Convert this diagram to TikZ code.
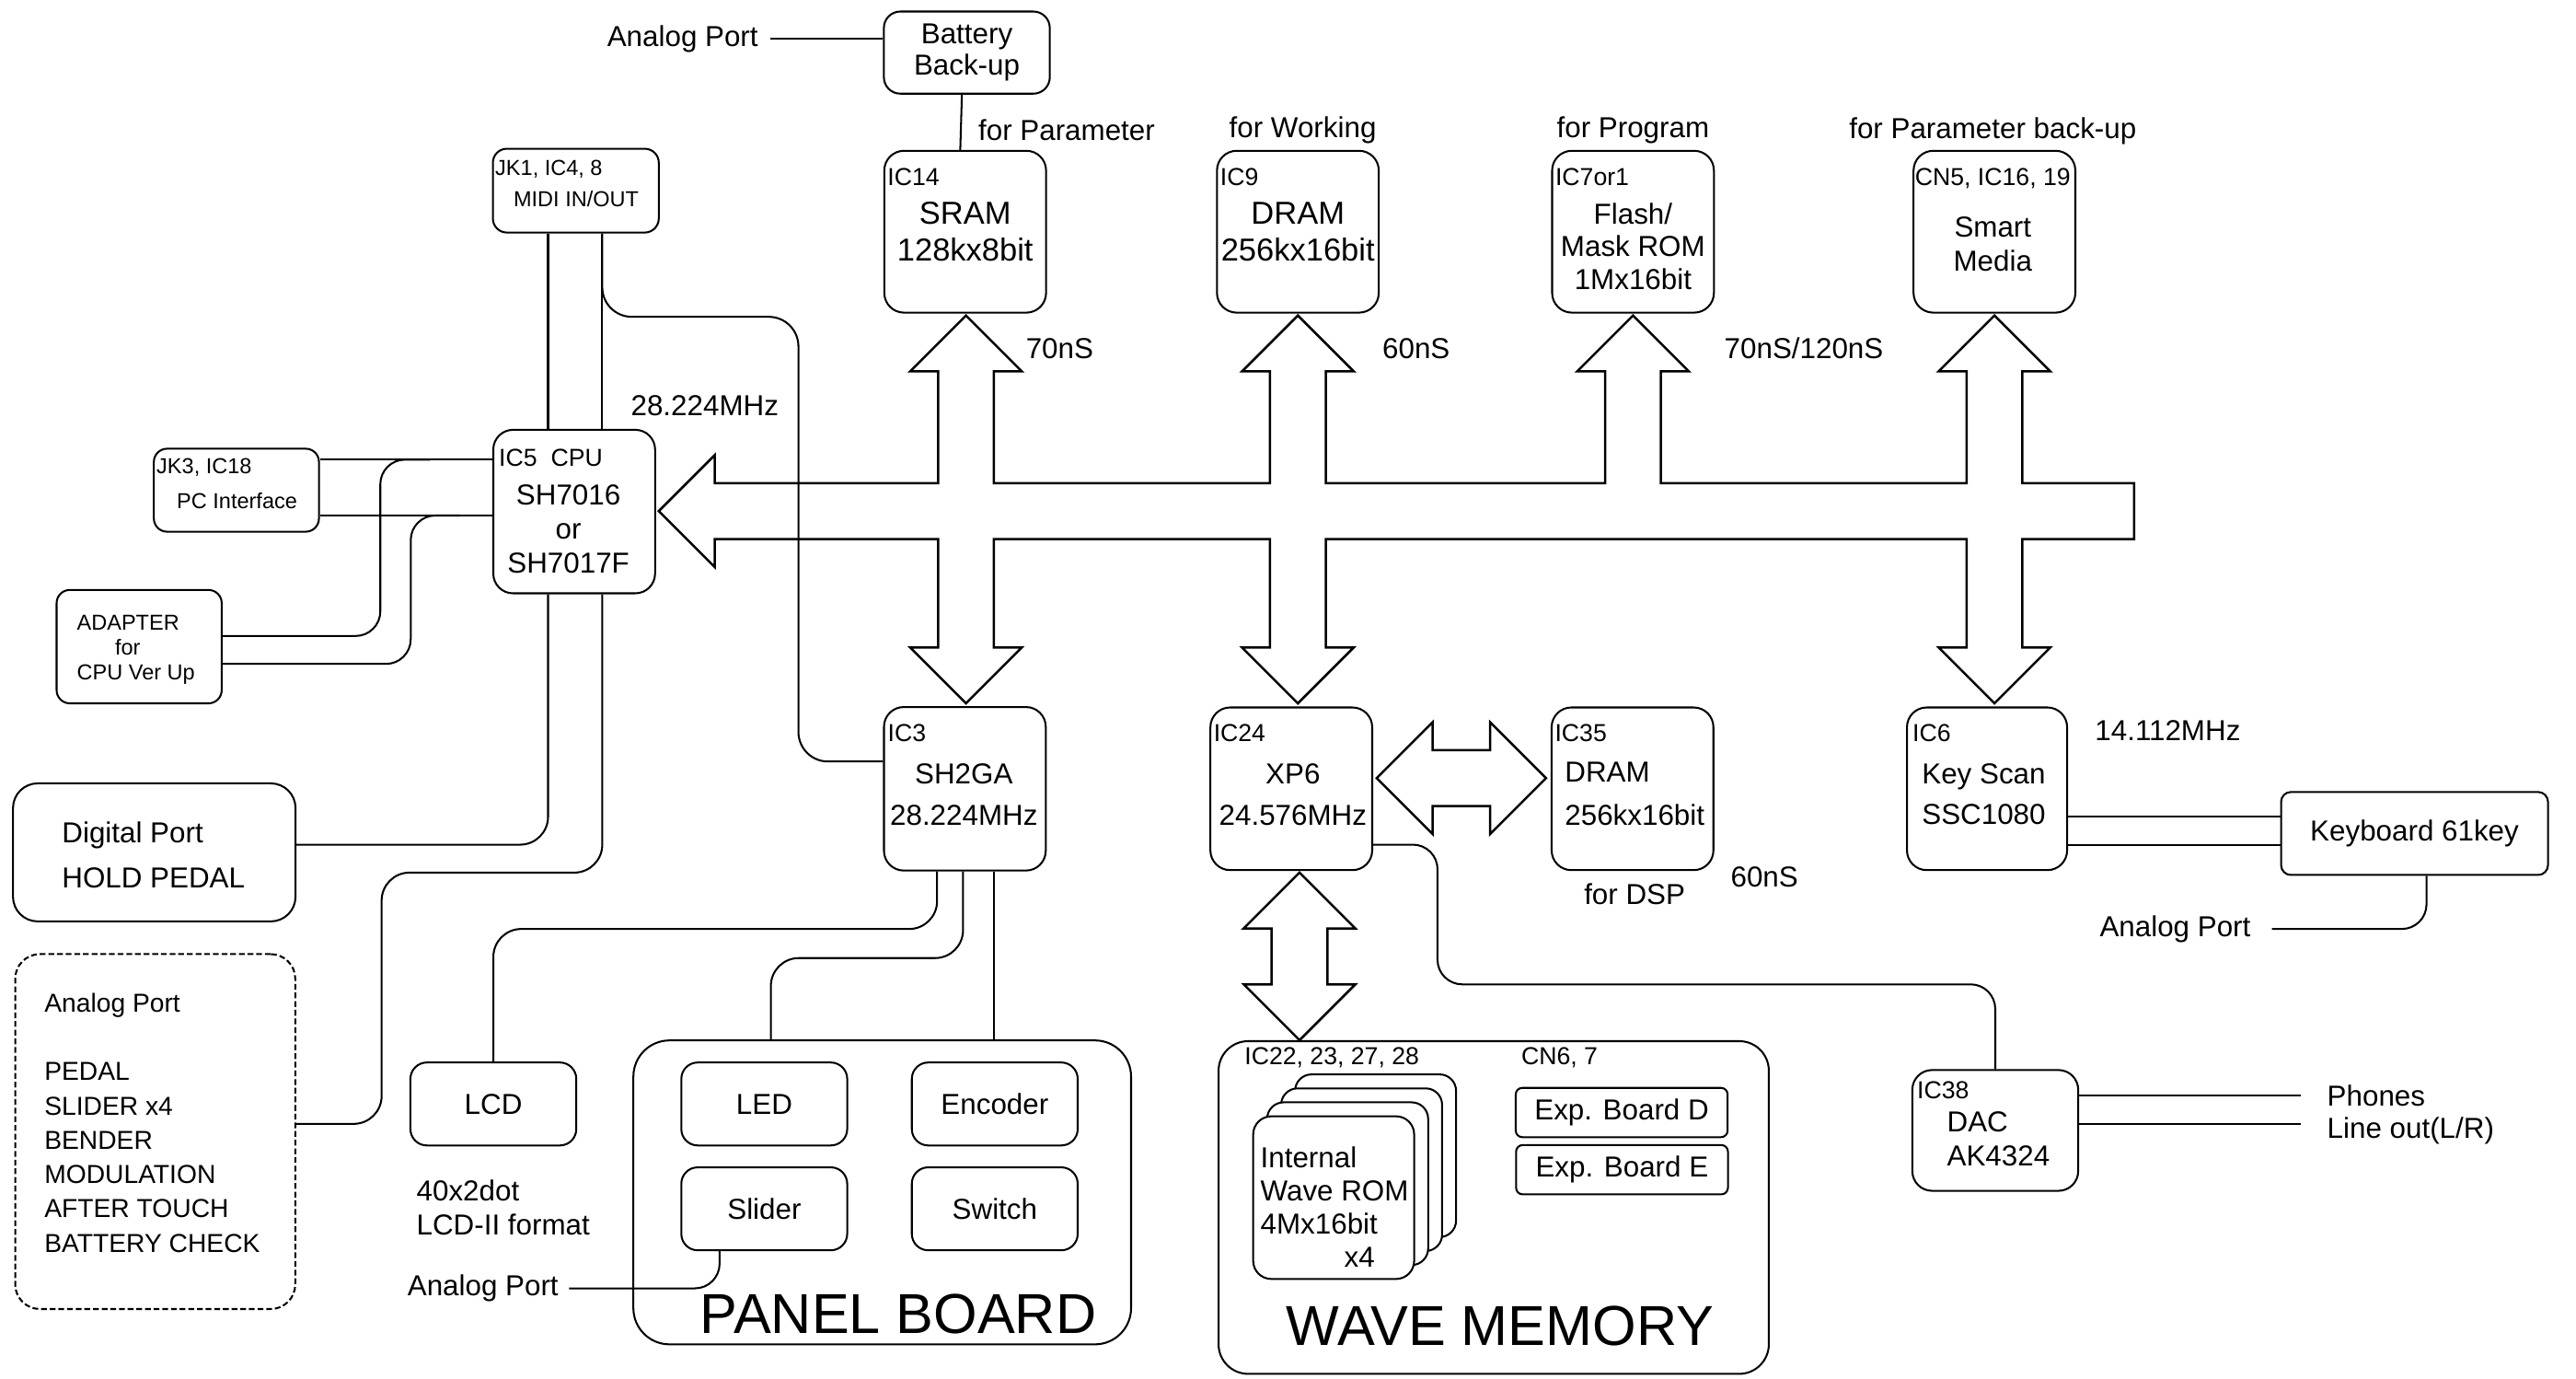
\documentclass[tikz,border=0pt]{standalone}
\usepackage{fontspec}
\setmainfont{Liberation Sans}
\usetikzlibrary{calc}

\begin{document}
\begin{tikzpicture}[
    x=0.02cm, y=-0.02cm,
    line width=0.65pt,
    chip/.style={draw, rounded corners=0.24cm, inner sep=0pt, minimum width=1.97cm, minimum height=1.97cm},
    unit/.style={draw, rounded corners=0.18cm, inner sep=0pt},
    frame/.style={draw, rounded corners=0.4cm, inner sep=0pt},
    wire/.style={draw, rounded corners=0.34cm},
    bus/.style={draw, line width=0.8pt, line join=miter},
    lbl/.style={inner sep=0pt, align=center, font=\fontsize{10}{12}\selectfont},
    big/.style={inner sep=0pt, align=center, font=\fontsize{11}{12.5}\selectfont},
    tag/.style={inner sep=0pt, anchor=west, font=\fontsize{8.5}{10}\selectfont},
    note/.style={inner sep=0pt, font=\fontsize{7.5}{9}\selectfont},
    title/.style={inner sep=0pt, font=\fontsize{19.5}{22}\selectfont}
]
\useasboundingbox (0,0) rectangle (1568,839);

% Memory chips on the bus
\node[unit, lbl, rounded corners=0.2cm, minimum width=2.02cm, minimum height=1cm, font=\fontsize{10}{10.8}\selectfont] (batt) at (588.5,32) {Battery\\Back-up};
\node[lbl, anchor=east] (ap-batt) at (462,23.5) {Analog Port};
\draw[shorten <=0.14cm] (ap-batt.east) -- (ap-batt.east -| batt.west);

\node[chip, big] (sram) at (587.5,141) {SRAM\\128kx8bit};
\node[tag] (t-sram) at ([xshift=0.04cm, yshift=-0.33cm]sram.north west) {IC14};
\node[chip, big] (dram) at (790,141) {DRAM\\256kx16bit};
\node[tag] (t-dram) at ([xshift=0.04cm, yshift=-0.33cm]dram.north west) {IC9};
\node[chip] (flash) at (994,141) {};
\node[tag] (t-flash) at ([xshift=0.04cm, yshift=-0.33cm]flash.north west) {IC7or1};
\node[lbl, font=\fontsize{10}{11.4}\selectfont] (n-flash) at (994,150) {Flash/\\Mask ROM\\1Mx16bit};
\node[chip] (smart) at (1214,141) {};
\node[tag, anchor=center] (t-smart) at (1213,108.6) {CN5, IC16, 19};
\node[lbl] (n-smart) at (1213,148.5) {Smart\\Media};

\draw ([xshift=-0.06cm]batt.south) -- ([xshift=-0.06cm]sram.north);

% Purpose and timing labels
\node[lbl, anchor=west] (u-sram) at (595,79) {for Parameter};
\node[lbl] (u-dram) at (793,79) {for Working};
\node[lbl] (u-flash) at (994,79) {for Program};
\node[lbl] (u-smart) at (1213,80) {for Parameter back-up};
\node[lbl] (s-sram) at (645,212) {70nS};
\node[lbl] (s-dram) at (862,212) {60nS};
\node[lbl] (s-flash) at (1098,212) {70nS/120nS};

% Main bus with its arrows
\draw[bus] (401,311) -- (435,277) -- (435,294)
    \foreach \c in {588,790,994,1214} { -- (\c-17,294) -- (\c-17,226) -- (\c-34,226) -- (\c,192) -- (\c+34,226) -- (\c+17,226) -- (\c+17,294) }
    -- (1299,294) -- (1299,328)
    \foreach \c in {1214,790,588} { -- (\c+17,328) -- (\c+17,394) -- (\c+34,394) -- (\c,428) -- (\c-34,394) -- (\c-17,394) -- (\c-17,328) }
    -- (435,328) -- (435,345) -- cycle;

% CPU and its ports
\node[unit, rounded corners=0.17cm, minimum width=2.02cm, minimum height=1.02cm] (midi) at (350.5,116) {};
\node[note, anchor=west] (t-midi) at ([xshift=0.03cm, yshift=-0.256cm]midi.north west) {JK1, IC4, 8};
\node[note] (n-midi) at (350.7,120.8) {MIDI IN/OUT};

\node[chip, minimum height=1.99cm] (cpu) at (349.5,311.3) {};
\node[tag] (t-cpu) at ([xshift=0.07cm, yshift=-0.35cm]cpu.north west) {IC5\ \ CPU};
\node[lbl, font=\fontsize{10}{11.8}\selectfont] (n-cpu) at (346,322) {SH7016\\or\\SH7017F};
\node[lbl] (clk-cpu) at (429,246.6) {28.224MHz};

\node[unit, rounded corners=0.16cm, minimum width=2.01cm, minimum height=1.01cm] (pc) at (143.9,298.3) {};
\node[note, anchor=west] (t-pc) at ([xshift=0.034cm, yshift=-0.234cm]pc.north west) {JK3, IC18};
\node[note] (n-pc) at (144.3,304.7) {PC Interface};

\node[unit, rounded corners=0.16cm, minimum width=2.01cm, minimum height=1.38cm] (adapter) at (84.7,393.5) {};
\node[note, anchor=west, align=left, font=\fontsize{7.5}{8.7}\selectfont] (n-adapter) at (46.3,395.5) {ADAPTER\\\hspace*{13.2pt}for\\CPU Ver Up};

\node[unit, rounded corners=0.3cm, minimum width=3.44cm, minimum height=1.68cm] (digital) at (93.9,518.7) {};
\node[lbl, anchor=west, align=left, font=\fontsize{10}{15.5}\selectfont] (n-digital) at (37.2,520.2) {Digital Port\\HOLD PEDAL};

\node[draw, dash pattern=on 2pt off 1pt, rounded corners=0.3cm, inner sep=0pt, minimum width=3.41cm, minimum height=4.32cm] (analog) at (94.5,688.6) {};
\node[lbl, anchor=west, align=left, font=\fontsize{9}{11.9}\selectfont] (n-analog) at (26.5,683.2) {Analog Port\\[11.9pt]PEDAL\\SLIDER x4\\BENDER\\MODULATION\\AFTER TOUCH\\BATTERY CHECK};

% CPU connections
\coordinate (m1) at ([xshift=-0.338cm]midi.south);
\coordinate (m2) at ([xshift=0.322cm]midi.south);
\draw (m1) -- (m1 |- cpu.north);
\draw (m2) -- (m2 |- cpu.north);

\coordinate (p1) at ([yshift=0.372cm]pc.east);
\coordinate (p2) at ([yshift=-0.308cm]pc.east);
\draw (p1) -- (p1 -| cpu.west);
\draw (p2) -- (p2 -| cpu.west);

\coordinate (a1) at ([yshift=0.13cm]adapter.east);
\coordinate (a2) at ([yshift=-0.21cm]adapter.east);
\draw[wire, rounded corners=0.3cm] (a1) -| (231.5,279.7) -- (262,279.7);
\draw[wire, rounded corners=0.3cm] (a2) -| (250,313.7) -- (280,313.7);

\coordinate (c1) at ([xshift=-0.318cm]cpu.south);
\coordinate (c2) at ([xshift=0.342cm]cpu.south);
\coordinate (d1) at ([yshift=0.094cm]digital.east);
\coordinate (d2) at ([yshift=0.094cm]analog.east);
\draw[wire] (c1) |- (d1);
\draw[wire] (c2) |- (232.3,531) |- (d2);

% Sound generator and panel
\node[chip, minimum height=1.99cm] (ic3) at (587.3,480) {};
\node[tag] (t-ic3) at ([xshift=0.046cm, yshift=-0.326cm]ic3.north west) {IC3};
\node[lbl, font=\fontsize{10}{14.5}\selectfont] (n-ic3) at (586.7,483.7) {SH2GA\\28.224MHz};

\coordinate (s1) at ([yshift=0.332cm]ic3.west);
\draw[wire, rounded corners=0.36cm] (m2) |- (486,192.8) |- (s1);

\node[unit, lbl, rounded corners=0.2cm, minimum width=2.02cm, minimum height=1.01cm] (lcd) at (300.3,671.8) {LCD};
\node[lbl, anchor=west, align=left, font=\fontsize{10}{11.7}\selectfont] (n-lcd) at (253,735) {40x2dot\\LCD-II format};

\node[frame, rounded corners=0.44cm, minimum width=6.06cm, minimum height=3.7cm] (panel) at (537,725.6) {};
\node[unit, lbl, rounded corners=0.2cm, minimum width=2.02cm, minimum height=1.01cm] (led) at (465.2,671.8) {LED};
\node[unit, lbl, rounded corners=0.2cm, minimum width=2.02cm, minimum height=1.01cm] (encoder) at (605.5,671.8) {Encoder};
\node[unit, lbl, rounded corners=0.2cm, minimum width=2.02cm, minimum height=1.01cm] (slider) at (465.2,735.6) {Slider};
\node[unit, lbl, rounded corners=0.2cm, minimum width=2.02cm, minimum height=1.01cm] (switch) at (605.5,735.6) {Switch};
\node[title] (t-panel) at (546.8,799.8) {PANEL BOARD};

\node[lbl] (ap-slider) at (294,784) {Analog Port};
\coordinate (sl) at ([xshift=-0.544cm]slider.south);
\draw[wire, rounded corners=0.3cm, shorten <=0.12cm] (ap-slider.east) -| (sl);

\coordinate (i1) at ([xshift=-0.338cm]ic3.south);
\coordinate (i2) at ([xshift=-0.022cm]ic3.south);
\coordinate (i3) at ([xshift=0.35cm]ic3.south);
\coordinate (b1) at ([xshift=-1.356cm]panel.north);
\draw[wire] (i1) -- ++(0,35) -| (lcd.north);
\draw[wire] (i2) -- ++(0,52.7) -| (b1);
\draw (i3) -- (i3 |- panel.north);

% DSP and wave memory
\node[chip, minimum height=1.98cm] (xp6) at (786,480) {};
\node[tag] (t-xp6) at ([xshift=0.04cm, yshift=-0.32cm]xp6.north west) {IC24};
\node[lbl, font=\fontsize{10}{14.5}\selectfont] (n-xp6) at (787,483.7) {XP6\\24.576MHz};

\node[chip, minimum height=1.98cm] (dsp) at (993.7,480) {};
\node[tag] (t-dsp) at ([xshift=0.04cm, yshift=-0.32cm]dsp.north west) {IC35};
\node[lbl, anchor=west, align=left, font=\fontsize{10}{14.8}\selectfont] (n-dsp) at (952,483) {DRAM\\256kx16bit};
\node[lbl] (f-dsp) at (995,544.3) {for DSP};
\node[lbl] (s-dsp) at (1074,533.8) {60nS};

\draw[bus] (838,473.5) -- (872,439.5) -- (872,456.5) -- (907,456.5) -- (907,439.5) -- (941,473.5)
    -- (907,507.5) -- (907,490.5) -- (872,490.5) -- (872,507.5) -- cycle;
\draw[bus] (791,531) -- (825,565) -- (808,565) -- (808,599) -- (825,599) -- (791,633)
    -- (757,599) -- (774,599) -- (774,565) -- (757,565) -- cycle;

\node[frame, rounded corners=0.36cm, minimum width=6.7cm, minimum height=4.05cm] (wave) at (909.2,734.8) {};
\node[tag] (t-wave) at (757,643.6) {IC22, 23, 27, 28};
\node[tag] (t-exp) at (925.5,643.6) {CN6, 7};
\node[unit, fill=white, rounded corners=0.2cm, minimum width=1.96cm, minimum height=1.98cm] (rom4) at (837.3,703.3) {};
\node[unit, fill=white, rounded corners=0.2cm, minimum width=1.96cm, minimum height=1.98cm] (rom3) at (828.8,711.8) {};
\node[unit, fill=white, rounded corners=0.2cm, minimum width=1.96cm, minimum height=1.98cm] (rom2) at (820.3,720.3) {};
\node[unit, fill=white, rounded corners=0.22cm, minimum width=1.96cm, minimum height=1.98cm] (rom) at (811.8,728.8) {};
\node[lbl, anchor=west, align=left, font=\fontsize{10}{11.5}\selectfont] (n-rom) at (766.7,734.3) {Internal\\Wave ROM\\4Mx16bit\\\hspace*{29pt}x4};
\node[unit, lbl, rounded corners=0.08cm, minimum width=2.58cm, minimum height=0.6cm] (expd) at (987.1,677) {Exp. Board D};
\node[unit, lbl, rounded corners=0.08cm, minimum width=2.58cm, minimum height=0.6cm] (expe) at (987.3,711.8) {Exp. Board E};
\node[title] (t-wavemem) at (913,807) {WAVE MEMORY};

% Key scan, keyboard and DAC
\node[chip, minimum width=1.95cm, minimum height=1.98cm] (ic6) at (1209.5,480) {};
\node[tag] (t-ic6) at ([xshift=0.068cm, yshift=-0.32cm]ic6.north west) {IC6};
\node[lbl, font=\fontsize{10}{14}\selectfont] (n-ic6) at (1207.5,483.5) {Key Scan\\SSC1080};
\node[lbl] (clk-ic6) at (1319.5,444.8) {14.112MHz};

\node[unit, lbl, rounded corners=0.12cm, minimum width=3.25cm, minimum height=1.01cm] (kbd) at (1469.7,507.2) {Keyboard 61key};
\coordinate (k1) at ([yshift=-0.342cm]ic6.east);
\coordinate (k2) at ([yshift=-0.68cm]ic6.east);
\draw (k1) -- (k1 -| kbd.west);
\draw (k2) -- (k2 -| kbd.west);

\node[lbl] (ap-kbd) at (1324,565.3) {Analog Port};
\coordinate (k3) at ([xshift=0.146cm]kbd.south);
\draw[wire, rounded corners=0.3cm, shorten <=0.25cm] (ap-kbd.east) -| (k3);

\node[chip, minimum width=2.02cm, minimum height=1.47cm] (ic38) at (1214.5,687.9) {};
\node[tag] (t-ic38) at ([xshift=0.06cm, yshift=-0.26cm]ic38.north west) {IC38};
\node[lbl, anchor=west, align=left, font=\fontsize{10}{12}\selectfont] (n-ic38) at (1184.6,693.1) {DAC\\AK4324};

\coordinate (x1) at ([yshift=-0.68cm]xp6.east);
\draw[wire, rounded corners=0.3cm] (x1) -| (875,599) -| (ic38.north);

\node[lbl, anchor=west] (phones) at (1416,666.7) {Phones};
\node[lbl, anchor=west] (lineout) at (1416,688) {Line out(L/R)};
\coordinate (o1) at ([yshift=0.424cm]ic38.east);
\coordinate (o2) at ([yshift=0.08cm]ic38.east);
\draw[shorten >=0.308cm] (o1) -- (o1 -| phones.west);
\draw[shorten >=0.308cm] (o2) -- (o2 -| lineout.west);

\end{tikzpicture}
\end{document}
